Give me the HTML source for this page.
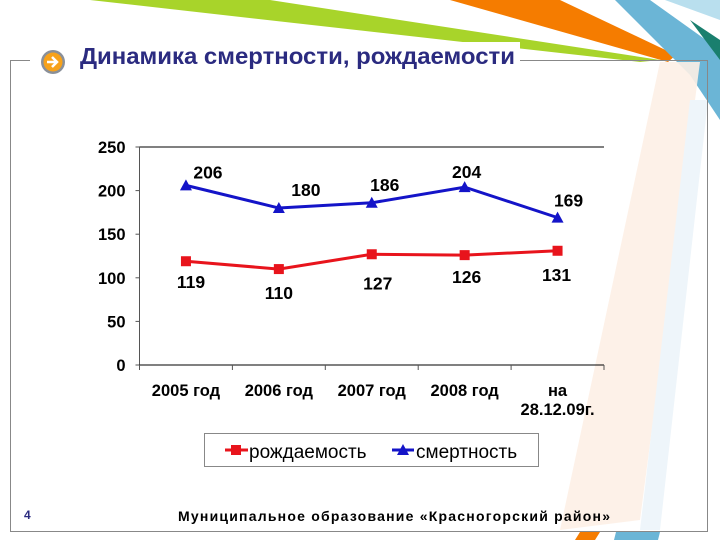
<!DOCTYPE html>
<html><head><meta charset="utf-8"><style>
body{margin:0;width:720px;height:540px;overflow:hidden;background:#fff;font-family:"Liberation Sans","Noto Sans CJK SC",sans-serif;}
svg text{font-family:"Liberation Sans","Noto Sans CJK SC",sans-serif;}
</style></head><body>
<svg width="720" height="540">
<g>
<polygon points="90,0 270,0 660,60 640,62" fill="#a8d42a"/>
<polygon points="450,0 560,0 676,55 668,62" fill="#f57c00"/>
<polygon points="615,0 650,0 720,50 720,120 690,75" fill="#6bb5d6"/>
<polygon points="665,0 720,0 720,20" fill="#b9dfee"/>
<polygon points="690,20 720,40 720,60" fill="#1a7f6e"/>
<polygon points="660,62 700,62 640,520 560,530" fill="#fdf0e6" opacity="0.9"/>
<polygon points="690,100 708,100 660,530 640,530" fill="#eef5fa"/>
<polygon points="580,532 600,532 595,540 575,540" fill="#f57c00"/>
<polygon points="616,532 660,532 658,540 614,540" fill="#6bb5d6"/>
</g>
<rect x="10.5" y="60.5" width="697" height="471" fill="none" stroke="#888" stroke-width="1"/>
<rect x="30" y="42" width="490" height="30" fill="#fff"/>
<g>
<circle cx="53" cy="62" r="12" fill="#8a9099"/>
<circle cx="53" cy="62" r="9.5" fill="#f7a21b"/>
<path d="M47,62 h9 M52,57 l5,5 l-5,5" stroke="#fff" stroke-width="2.5" fill="none"/>
</g>
<text x="80" y="64" font-size="23" font-weight="bold" fill="#2b2b80" textLength="435" lengthAdjust="spacingAndGlyphs">Динамика смертности, рождаемости</text>
<g id="chart"></g>
<rect x="204.5" y="433.5" width="334" height="33" fill="#fff" stroke="#888"/>
<g>
<line x1="225" y1="450" x2="248" y2="450" stroke="#e8141c" stroke-width="3"/>
<rect x="231" y="445" width="10" height="10" fill="#e8141c"/>
<text x="249" y="458" font-size="19" fill="#000">рождаемость</text>
</g>
<g>
<line x1="392" y1="450" x2="414" y2="450" stroke="#1414c8" stroke-width="3"/>
<polygon points="403,444 409,455 397,455" fill="#1414c8"/>
<text x="416" y="458" font-size="19" fill="#000">смертность</text>
</g>
<text x="24" y="519" font-size="12" font-weight="bold" fill="#2b2b80">4</text>
<text x="178" y="521" font-size="14" font-weight="bold" fill="#000" textLength="432" lengthAdjust="spacing">Муниципальное образование «Красногорский район»</text>
</svg>
<script>
const categories=["2005 год","2006 год","2007 год","2008 год","на|28.12.09г."];
const births=[119,110,127,126,131];
const deaths=[206,180,186,204,169];
const yTicks=[0,50,100,150,200,250];
const NS="http://www.w3.org/2000/svg";
const g=document.getElementById('chart');
const L=139.5,R=604,T=147,B=365,yMax=250;
const bw=(R-L)/categories.length;
const x=i=>L+bw*(i+0.5);
const y=v=>B-(v/yMax)*(B-T);
function mk(t,a,p){const e=document.createElementNS(NS,t);for(const k in a)e.setAttribute(k,a[k]);(p||g).appendChild(e);return e;}
let e;
e=mk('line',{x1:L,y1:T,x2:R,y2:T,stroke:'#000','stroke-width':1});


e=mk('line',{x1:L,y1:T,x2:L,y2:B,stroke:'#555','stroke-width':1});


e=mk('line',{x1:L,y1:B,x2:R,y2:B,stroke:'#000','stroke-width':1});


yTicks.forEach(v=>{
 mk('line',{x1:L-4,y1:y(v),x2:L,y2:y(v),stroke:'#555'});
 e=mk('text',{x:L-14,y:y(v)+6,'font-size':16.5,'font-weight':'bold','text-anchor':'end'});
 e.textContent=v;
 
 
});
for(let i=0;i<=categories.length;i++)mk('line',{x1:L+bw*i,y1:B,x2:L+bw*i,y2:B+5,stroke:'#555'});
categories.forEach((c,i)=>{
 const parts=c.split('|');
 parts.forEach((p,j)=>{
  e=mk('text',{x:x(i),y:396+j*19,'font-size':16.5,'font-weight':'bold','text-anchor':'middle'});
  e.textContent=p;
  
  
 });
});
function series(vals,color,name,marker,labOff){
 e=mk('polyline',{points:vals.map((v,i)=>x(i)+','+y(v)).join(' '),fill:'none',stroke:color,'stroke-width':3});
 
 
 vals.forEach((v,i)=>{
  const cx=x(i),cy=y(v);
  if(marker==='sq')e=mk('rect',{x:cx-5,y:cy-5,width:10,height:10,fill:color});
  else e=mk('polygon',{points:`${cx},${cy-6} ${cx+6},${cy+5} ${cx-6},${cy+5}`,fill:color});
  
  
  const o=labOff[i];
  e=mk('text',{x:cx+o[0],y:cy+o[1],'font-size':17.5,'font-weight':'bold','text-anchor':'middle'});
  e.textContent=v;
  
  
 });
}
series(births,'#e8141c','births','sq',[[5,27],[0,30],[6,35],[2,28],[-1,30]]);
series(deaths,'#1414c8','deaths','tri',[[22,-7],[27,-12],[13,-12],[2,-9],[11,-11]]);
</script>
</body></html>
